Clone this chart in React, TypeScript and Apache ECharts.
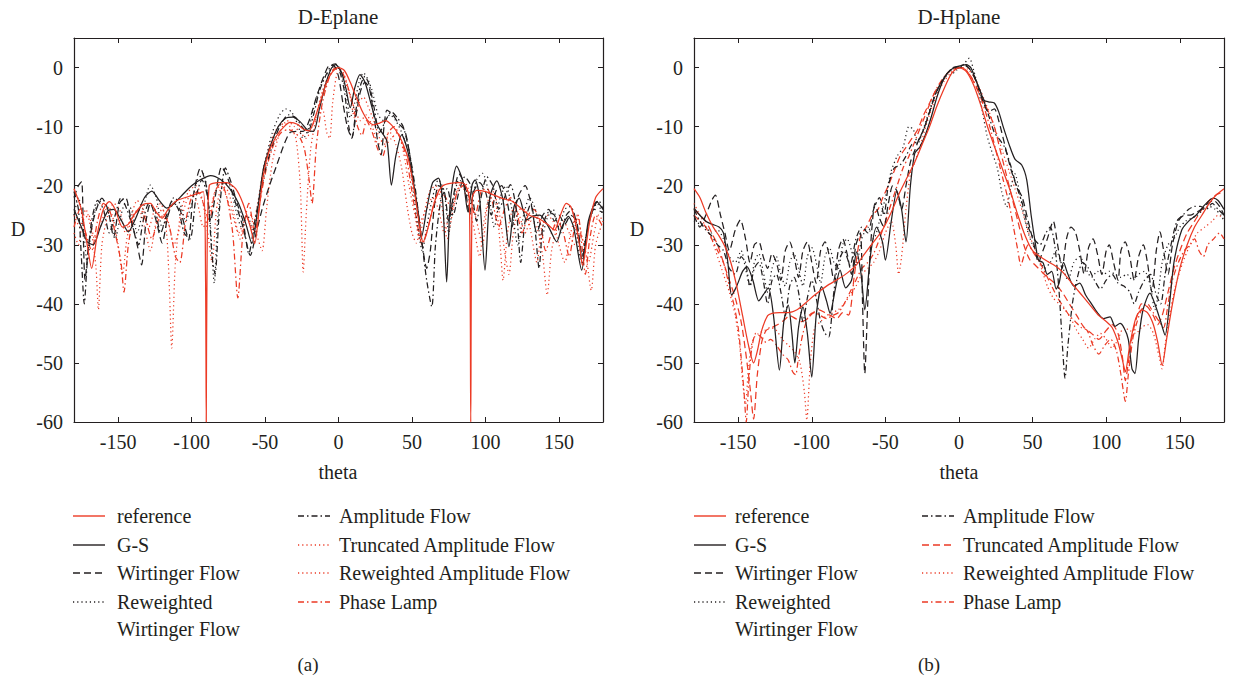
import React, { useEffect, useRef } from "react";
import * as echarts from "echarts";

type P = [number, number];

// ---------- D-Eplane (a) ----------
const eReference: P[] = [[-180,-20.5],[-175,-24],[-171,-30],[-168,-34],[-164,-28],[-160,-24],[-156,-22.7],[-152,-24],[-147,-27],[-143,-26.5],[-138,-24.5],[-133,-23.2],[-128,-23],[-124,-24.5],[-120,-25.5],[-116,-24],[-110,-22.5],[-104,-22],[-98,-21.5],[-92,-21],[-90.5,-35],[-90,-60],[-89.5,-35],[-88,-20],[-82,-19.5],[-76,-19.5],[-70,-20.5],[-65,-23],[-60,-27],[-57,-29.8],[-54,-24],[-51,-18],[-47,-14],[-42,-11.5],[-37,-10],[-33,-9.3],[-28,-9.6],[-24,-10.4],[-20,-10.7],[-16,-8.5],[-12,-5.5],[-8,-2.5],[-4,-0.7],[0,0],[4,-0.5],[8,-2.5],[12,-5],[16,-7.3],[20,-9],[24,-9.7],[28,-9.4],[32,-9],[36,-9.7],[40,-11],[44,-13],[48,-16],[52,-21.5],[55,-26.5],[57.5,-29.5],[60,-28],[63,-25],[67,-21.5],[71,-20],[76,-19.6],[82,-19.5],[86,-19.8],[89,-22],[90,-60],[91,-22],[94,-20.8],[100,-21],[106,-21.6],[112,-22.2],[118,-22.6],[124,-23.8],[130,-25],[136,-25.5],[142,-26.5],[147,-27.5],[151,-25],[155,-23],[158,-23.5],[161,-26],[164,-30],[166,-33.5],[168,-31],[171,-26],[175,-22],[180,-20.5]];
const eGS: P[] = [[-180,-24],[-175,-27],[-171,-29.5],[-167,-30],[-162,-27],[-157,-24.3],[-153,-24],[-148,-25.8],[-143,-27.8],[-138,-25.5],[-132,-22],[-127,-20.9],[-122,-22.5],[-117,-23.8],[-112,-23],[-106,-21.5],[-100,-20],[-94,-19],[-87,-18.3],[-80,-19],[-74,-20.5],[-68,-23],[-63,-26.5],[-59,-29.8],[-55,-24],[-51,-17],[-46,-13],[-41,-10],[-36,-8.6],[-31,-8.4],[-26,-9.2],[-21,-10.6],[-17,-10.8],[-13,-7],[-9,-3],[-5,-0.2],[-2,0.5],[2,-0.8],[5,-3.5],[8,-6.8],[11,-3.5],[14.6,-1.2],[18,-2.5],[22,-6],[26,-9.5],[29,-10.8],[33,-12.5],[36,-19.9],[39,-15],[43,-11.4],[47,-14],[50,-18],[54,-24],[56.6,-28.6],[60,-24],[64,-19.5],[68,-18.7],[71,-23],[73.6,-36.3],[76,-23],[80.4,-16.7],[85,-19.5],[88,-24.4],[91,-19.8],[93,-19],[96,-22],[99.7,-34.3],[103,-22],[107.7,-19.2],[112,-22.5],[116,-30.3],[119.5,-23.5],[123,-22.1],[128,-25.8],[132,-25.2],[137,-25],[143,-27],[148.5,-29.5],[152,-27],[156.4,-25.2],[160,-27],[165.5,-34.3],[170,-26],[175.7,-22.7],[180,-24]];
const eWF: P[] = [[-180,-22],[-177,-20],[-174.8,-19.3],[-173.5,-30],[-172.5,-36],[-170,-30],[-166,-25],[-161,-22.1],[-157,-24],[-153,-28.6],[-149,-23],[-145,-22],[-141,-26],[-137,-30],[-134,-33.4],[-131,-26],[-128,-23],[-124,-26],[-120,-29.7],[-116,-25],[-112,-23],[-108,-24],[-104,-27.5],[-102,-29.2],[-99,-22],[-94,-17],[-90,-20],[-87,-26],[-84,-22],[-79.5,-16.8],[-75,-19],[-70,-23],[-65,-27],[-60,-31.8],[-56,-28],[-52,-24],[-47,-20],[-42,-16.5],[-37,-13],[-33,-11],[-28,-10.8],[-24,-10.8],[-20,-9],[-15,-5],[-10,-1.5],[-6,0.4],[-3,0.3],[0,-1.5],[3,-6],[6,-10],[9,-11.9],[12,-8],[15,-4],[18,-2.5],[21,-3.5],[24,-8],[27,-13],[29,-14.8],[31,-10],[33,-7.2],[37,-8],[41,-9.5],[45,-10.6],[48,-14],[51,-19],[54,-25],[57,-30],[60,-34],[62.5,-31],[65,-24],[68,-20],[72,-21],[75,-26],[78,-22],[82,-18],[86,-20],[89,-25],[92,-21],[96,-19.5],[100,-21],[104,-25],[107,-21],[111,-20],[115,-23],[118,-27],[122,-22],[127,-20],[131,-23],[135,-28],[139,-25],[143,-24],[147,-26],[150,-25],[154,-26.5],[158,-25],[162,-26],[166,-32],[169,-28],[174,-24],[180,-24.5]];
const eRWF: P[] = [[-180,-25],[-177,-22],[-174,-26],[-171,-33],[-168,-27],[-164,-23],[-160,-22.5],[-156,-25],[-152,-29],[-149,-26],[-145,-23],[-141,-24],[-137,-28],[-133,-24],[-128,-19.9],[-124,-22],[-120,-27],[-116,-25],[-112,-22],[-108,-23],[-104,-26],[-100,-23],[-96,-19],[-92,-18],[-88,-24],[-84.5,-36.5],[-82,-25],[-78,-19.5],[-74,-20],[-70,-24],[-66,-27],[-62,-25],[-58,-28],[-54,-22],[-50,-16],[-45,-11],[-40,-8],[-36,-7],[-32,-7.5],[-28,-9.5],[-24,-12],[-20,-10],[-16,-6],[-12,-3],[-8,-1.2],[-4,0],[-1,0.5],[2,-1],[5,-4],[8,-8.5],[11,-6],[14,-2.5],[17,-0.9],[20,-2],[23,-4],[27,-8],[31,-9],[35,-8],[39,-9],[43,-11],[47,-14],[51,-21],[54,-27],[57,-31],[60,-27],[64,-22],[68,-19],[72,-21],[75,-28],[78,-23],[82,-19],[86,-20],[90,-23],[94,-19],[98,-17.9],[102,-21],[106,-27],[110,-22],[114,-20],[118,-24],[122,-30],[126,-25],[130,-22],[134,-24],[138,-29],[142,-25.5],[146,-24],[150,-27],[154,-24],[158,-23.5],[162,-28],[165,-33],[168,-29],[172,-25],[176,-23],[180,-25]];
const eAF: P[] = [[-180,-21],[-177,-24],[-175,-32],[-173,-40],[-171,-33],[-168,-26],[-164,-22.5],[-160,-24],[-156,-28],[-152,-25],[-148,-22],[-144,-24],[-140,-27],[-136,-30],[-133,-26],[-129,-23],[-125,-24],[-121,-28],[-117,-25],[-113,-22.5],[-109,-24],[-105,-28],[-101,-29],[-97,-22],[-93,-19],[-89,-22],[-86,-32],[-84,-35],[-81,-24],[-77,-17],[-73,-19.5],[-69,-23],[-65,-26],[-61,-31.5],[-57,-26],[-53,-21],[-49,-16.5],[-44,-12.5],[-39,-9.5],[-34,-8],[-29,-8.5],[-25,-10],[-21,-11],[-17,-8],[-13,-4],[-9,-1.5],[-5,0.3],[-2,0.6],[1,-0.8],[4,-4],[7,-10],[9,-12],[12,-7],[15,-3],[18,-1.5],[21,-3],[24,-6.5],[28,-11],[32,-9],[36,-7.5],[40,-8.5],[44,-10],[48,-14],[52,-20],[56,-28],[60,-36],[63.5,-40.5],[66,-30],[70,-22],[74,-20.5],[78,-25],[82,-21],[86,-18.5],[90,-20],[94,-26],[97,-22],[101,-18.5],[105,-20],[109,-24],[113,-22],[117,-19.8],[121,-24],[124,-33],[127,-26],[131,-23],[134,-28],[136.5,-34],[139,-27],[143,-24.5],[147,-25],[151,-28],[155,-25],[159,-24],[163,-28],[166,-33],[169,-28],[173,-24],[177,-22.5],[180,-24]];
const eTAF: P[] = [[-180,-25],[-176,-27],[-172,-24],[-168,-28],[-165,-34],[-163.4,-41],[-161,-30],[-157,-25],[-153,-23],[-149,-24],[-145,-28],[-141,-25],[-137,-22.5],[-133,-24],[-129,-27],[-125,-24],[-121,-23],[-117,-28],[-115,-38],[-113.5,-47.5],[-111,-33],[-107,-24],[-102,-21],[-97,-20],[-93,-22],[-89,-28],[-86,-33],[-83,-24],[-79,-20],[-75,-21],[-71,-25],[-67,-29],[-63,-25],[-59,-27],[-55,-23],[-51,-17],[-46,-12.5],[-41,-10],[-37,-9.5],[-33,-10],[-29,-12],[-26,-20],[-24,-34.6],[-22,-25],[-19,-14],[-15,-8],[-11,-4],[-7,-1.5],[-3,-0.3],[0,-0.2],[3,-1.5],[7,-4],[11,-7],[15,-9],[19,-8],[23,-10],[27,-13],[31,-12],[35,-11],[39,-13],[43,-17],[47,-24],[50,-28],[53,-29.7],[56,-26],[60,-24],[64,-22],[68,-24],[72,-28],[76,-24],[80,-21],[84,-20],[88,-23],[92,-27],[96,-32],[99,-26],[103,-22],[107,-23],[110,-30],[112,-36],[115,-28],[119,-24],[123,-25],[127,-28],[131,-26],[135,-27],[139,-32],[142,-38.5],[145,-31],[149,-27],[153,-26],[157,-28],[161,-30],[164,-28],[168,-31],[172,-37.7],[175,-30],[180,-26]];
const eRAF: P[] = [[-180,-28],[-177,-30],[-174,-26],[-170,-25],[-166,-29],[-162,-27],[-158,-24],[-154,-25],[-150,-30],[-147,-35],[-144,-29],[-140,-25],[-136,-24],[-132,-27],[-128,-31],[-124,-26],[-120,-24],[-116,-26],[-112,-30],[-108,-27],[-104,-23],[-100,-21.5],[-96,-23],[-92,-27],[-88,-25],[-84,-21],[-80,-20],[-76,-22],[-72,-25],[-68,-28],[-64,-26],[-60,-25],[-56,-28],[-52,-31],[-49,-24],[-45,-16],[-40,-11],[-35,-9],[-30,-10],[-26,-11],[-22,-12],[-18,-10],[-14,-8],[-11,-7],[-8,-11],[-6,-12],[-4,-6],[-1,-1],[2,-0.5],[5,-2],[8,-5],[11,-8.5],[14,-6],[17,-5],[20,-6.5],[24,-9],[28,-12],[32,-13],[36,-12],[40,-11],[44,-14],[48,-20],[52,-25],[55,-29],[58,-25],[62,-21],[66,-20],[70,-23],[74,-29],[78,-24],[82,-20],[86,-19.5],[90,-22],[94,-26],[98,-30],[101,-24],[105,-21],[109,-24],[113,-31],[116,-35],[119,-28],[123,-24],[127,-24],[131,-28],[135,-33],[138,-28],[142,-25],[146,-26],[150,-30],[154,-33],[158,-28],[162,-25],[166,-29],[170,-33],[174,-28],[177,-25],[180,-26]];
const ePL: P[] = [[-180,-27],[-176,-24],[-172,-28],[-168,-31],[-164,-26],[-160,-23],[-156,-24],[-152,-28],[-148,-33],[-146,-38],[-143,-30],[-139,-25],[-135,-24],[-131,-26],[-127,-29],[-123,-26],[-119,-25],[-115,-27],[-111,-32],[-108,-33],[-104,-26],[-100,-22],[-96,-21],[-92,-23],[-88,-26],[-84,-21],[-80,-19.5],[-76,-22],[-72,-28],[-68.5,-39],[-65,-28],[-61,-23],[-57,-28],[-53,-22],[-49,-17],[-44,-13],[-39,-11],[-34,-10.5],[-30,-11],[-26,-12],[-23,-14],[-20,-19],[-18,-23],[-15,-13],[-11,-6],[-6,-1.5],[-2,0],[2,-0.5],[6,-3],[10,-6.5],[13,-10],[16,-11.5],[19,-9],[23,-11],[27,-14],[30,-15],[34,-11],[38,-10],[42,-12],[46,-15],[50,-21],[54,-27],[57,-30],[61,-27],[65,-23],[69,-21],[73,-22],[77,-24],[81,-21],[85,-20],[89,-22],[93,-25],[97,-21],[101,-20.5],[105,-23],[109,-27],[113,-24],[117,-22],[121,-24],[125,-28],[129,-25],[133,-24],[137,-26],[141,-31],[145,-28],[149,-26],[153,-28],[157,-32],[160,-28],[163,-25],[166,-31],[168,-35],[171,-29],[175,-25],[180,-27]];

// ---------- D-Hplane (b) ----------
const hReference: P[] = [[-180,-20.5],[-176,-22],[-172,-24.5],[-167,-27],[-163,-28.5],[-159,-30.3],[-155,-33],[-151,-37],[-147,-42],[-143,-47],[-139.5,-50],[-137,-48],[-134,-44.5],[-130,-42],[-127,-41.6],[-122,-41.5],[-116,-41.5],[-110,-41],[-104,-39.8],[-98,-38.5],[-90,-37],[-82,-35.8],[-76,-34.8],[-70,-33.5],[-64,-31.5],[-58,-29.5],[-52,-27.5],[-46,-24.5],[-40,-21],[-35,-18.5],[-30,-16],[-25,-13],[-20,-10],[-15,-6.5],[-10,-3.5],[-5,-1],[0,0],[5,-0.7],[10,-3],[15,-6.5],[20,-10.5],[25,-14],[30,-17.5],[35,-21],[40,-25],[45,-28.5],[50,-31],[55,-32],[60,-32.8],[65,-33.5],[70,-34.5],[75,-36],[80,-37.5],[85,-39],[90,-40.5],[95,-42],[100,-43],[104,-44],[108,-46.5],[111,-49.5],[113,-51.5],[116,-47],[120,-42.5],[124,-41],[128,-41.5],[132,-43.5],[135,-46.5],[138,-50.4],[141,-46],[145,-40],[150,-34],[155,-30],[160,-27],[165,-25],[170,-23],[175,-21.5],[180,-20.5]];
const hGS: P[] = [[-180,-23.8],[-176,-25],[-172,-26],[-168,-26.5],[-163,-27],[-160,-28],[-157,-33],[-154.5,-38.5],[-151,-37],[-147,-34.5],[-144,-33.7],[-140,-36],[-136,-39.5],[-133,-38.5],[-129.5,-37.3],[-126,-42],[-122,-51.2],[-119,-43],[-116,-40.2],[-113.5,-45],[-111.5,-50],[-109,-44],[-106,-40.5],[-103,-45],[-100,-52.4],[-97,-42],[-93.3,-37.1],[-90,-39.5],[-87.6,-41.6],[-84,-37.5],[-80.8,-34.3],[-77,-37.3],[-73,-36],[-69.5,-31.2],[-66.5,-35],[-64,-41],[-60,-31.5],[-56,-27],[-52,-29.5],[-50,-32.6],[-46,-26],[-42.3,-21],[-39,-24],[-36,-29.5],[-33,-20],[-30,-14.5],[-26.5,-13.4],[-23,-11.5],[-19,-8.5],[-15,-5],[-11,-2.3],[-7,-0.7],[-3,0],[1,0.3],[5,0.5],[8,0],[11,-1.8],[14,-3.8],[17,-5.5],[20,-5.8],[24,-6],[27,-7.5],[30,-10],[34,-13],[38,-15.5],[42.6,-16.5],[46,-19],[49,-25],[52,-30],[54,-32.6],[57,-33],[60,-35],[63,-34.5],[66,-37.5],[68,-36.5],[71,-33],[74,-35],[78,-37],[82,-36.5],[86,-38.5],[90,-40],[94,-41.5],[98,-42.5],[102.6,-42.2],[106,-43.8],[109.4,-43.3],[112,-44],[115,-46],[117.5,-51],[119.5,-51.8],[122,-46],[125,-41],[129.7,-38.2],[133,-40],[137,-43],[140,-45.3],[143,-40],[146,-33],[151.3,-27.5],[156,-26],[161,-25],[166,-23.5],[172.7,-22.1],[176,-22.5],[180,-24]];
const hWF: P[] = [[-180,-25],[-176,-27],[-172,-25],[-168,-22.5],[-165.5,-21.6],[-162,-25],[-159,-28],[-156,-31],[-152,-27.5],[-148.5,-25.8],[-145,-29],[-142,-33],[-139,-30],[-136,-29.5],[-133,-32],[-130,-34],[-127,-31.5],[-124,-33],[-121,-36],[-118,-31],[-115,-29.5],[-112,-32],[-109,-35.5],[-106,-31],[-103,-29.5],[-100,-33],[-97,-36.5],[-94,-31],[-91,-29.5],[-88,-32],[-85,-36],[-82,-31],[-79,-29],[-76,-31.5],[-73,-35],[-70,-30],[-67,-28],[-65.5,-40],[-64,-51.8],[-62,-40],[-60,-30],[-57,-23],[-54,-25.5],[-51,-27],[-48,-23],[-45,-20],[-42,-21],[-39,-24],[-36,-20],[-33,-16],[-30,-14],[-27,-12],[-24,-10.5],[-20,-7.5],[-16,-4.5],[-12,-2.5],[-8,-1],[-4,-0.2],[0,0],[4,0.3],[8,-0.5],[12,-2.5],[16,-5.5],[20,-7.5],[24,-7],[27,-9],[31,-13],[35,-17],[39,-20],[43,-22],[47,-26],[51,-30],[54,-33],[57,-31],[60,-29],[64,-26],[67,-30],[70,-34],[73,-29],[76,-27],[79,-27.8],[82,-31],[85,-35],[88,-30.5],[91,-29],[94,-31.5],[97,-35],[100,-31],[102,-30],[105,-33],[108,-36],[110,-31],[112.8,-29.5],[116,-32],[119,-36],[122,-32],[125.2,-30],[128,-33],[131,-38],[134,-31],[136.5,-27.8],[139,-31],[142,-35],[145,-30],[149,-26],[153,-25],[157,-25],[161,-24.5],[165,-24],[169,-23],[173,-22.5],[177,-23.5],[180,-25]];
const hRWF: P[] = [[-180,-26],[-176,-26.5],[-172,-27],[-168,-28],[-164,-27.5],[-160,-29],[-156,-32],[-152,-33],[-148,-31],[-145,-34],[-142,-37],[-139,-33],[-136,-31.5],[-133,-34.5],[-130,-38],[-127,-34],[-124,-32],[-121,-35],[-118,-37],[-115,-33],[-112,-31.5],[-109,-34],[-106,-37],[-103,-32],[-100,-30.5],[-97,-33],[-94,-36.5],[-91,-32],[-88,-30.5],[-85,-33],[-82,-34],[-79,-30],[-76,-29],[-73,-31],[-70,-33.5],[-66,-29],[-62,-27],[-58,-29],[-54,-26],[-50,-22],[-46,-17.5],[-42,-15],[-38,-13.5],[-34,-10],[-31,-10.5],[-28,-13],[-25,-11],[-21,-8],[-17,-5],[-13,-3],[-9,-1.5],[-5,-1.2],[-2,-0.5],[1,0],[4,0.8],[7,1.6],[10,-0.5],[13,-3.5],[16,-7.5],[19,-11.5],[22,-14],[26,-17],[29,-21],[32.4,-23.6],[35,-20.5],[38,-18],[41,-21],[44,-25],[47,-28],[50,-30],[54,-31.5],[58,-34],[62,-33],[66,-31],[70,-33.5],[74,-36],[78,-33],[82,-32],[86,-34],[90,-35.5],[94,-34.5],[98,-35],[102,-34.5],[106,-35],[110,-35.5],[114,-35],[118,-36],[122,-35],[126,-34.5],[130,-37],[133,-41],[135,-39],[138,-33],[142,-30],[146,-29],[150,-27],[154,-26],[158,-25.5],[162,-25],[166,-24],[170,-23.5],[174,-24],[178,-25],[180,-26]];
const hAF: P[] = [[-180,-24],[-176,-26],[-172,-27.5],[-168,-28.5],[-164,-30],[-160,-31],[-156,-34],[-152,-35],[-148,-32],[-145,-33],[-142,-37],[-139,-34],[-136,-33],[-133,-36],[-130,-40],[-127,-36],[-124,-35],[-121,-38],[-118,-42],[-115,-37],[-112,-35.5],[-109,-38],[-106,-43],[-103,-39],[-100,-36],[-97,-39],[-94,-43],[-91,-45],[-88.5,-45.6],[-85,-38],[-82,-33],[-78,-31],[-74,-33.5],[-70,-29],[-66,-27],[-62,-28],[-58,-24],[-54,-22],[-51,-25],[-48,-20],[-44,-17],[-40,-16.5],[-36,-15],[-32,-13],[-28,-12.5],[-24,-10.5],[-20,-7.5],[-16,-4.5],[-12,-2.5],[-8,-1],[-4,0],[0,0.2],[4,0.5],[8,-0.5],[12,-2.5],[16,-5],[20,-8],[24,-11],[27,-12],[31,-13.5],[35,-16.5],[39,-20],[43,-23],[47,-27],[51,-29],[55,-30],[59,-28],[62,-27],[65,-30],[68,-38],[70.5,-48],[72,-52.6],[74,-47],[77,-40],[80,-36],[84,-33],[88,-34],[92,-36],[96,-37.5],[100,-36],[104,-35],[108,-36.5],[112,-37],[116,-38],[119,-40],[122,-38],[126,-36],[130,-35],[134,-38.5],[137,-40],[140,-35],[144,-30],[148,-26],[152,-25],[156,-24],[160,-23.5],[164,-23.5],[168,-24],[172,-23],[176,-24],[180,-25]];
const hTAF: P[] = [[-180,-24],[-176,-25],[-172,-26],[-168,-28],[-164,-30],[-160,-33],[-156,-36],[-152,-39],[-148,-43],[-145,-48],[-142,-54],[-139.5,-59.5],[-137,-52],[-134,-46.5],[-131,-44.5],[-127,-44],[-123,-43.5],[-119,-42.8],[-115,-42],[-111,-42.5],[-107,-43],[-103,-42.5],[-99,-41.5],[-95,-41],[-91,-41.5],[-87,-42],[-83,-42.5],[-79,-41.5],[-75,-41.9],[-71,-35],[-67,-28.6],[-63,-27],[-59,-25],[-55,-24],[-51.6,-21.9],[-48,-20],[-44,-17.5],[-40,-15],[-36,-13.5],[-32,-12],[-28,-10.5],[-24,-8],[-20,-6],[-16,-4],[-12,-2.5],[-8,-1],[-4,-0.3],[0,0],[4,-0.3],[8,-1.5],[12,-3.5],[16,-5.5],[20,-7.5],[24,-10],[28,-14],[32,-18],[36,-22],[40,-26],[44,-30],[48,-32.5],[52,-33.5],[56,-34.5],[60,-35.5],[65,-36.5],[70,-38],[75,-40],[80,-42],[85,-44],[90,-45],[95,-46],[100,-44.5],[104,-43.5],[108,-45],[111,-49],[113,-53],[115,-50],[118,-45],[121,-42],[124,-40],[128,-40.5],[132,-42],[135,-43.5],[138,-42],[142,-38],[146,-34],[150,-31],[155,-28],[160,-26],[165,-24],[170,-22.5],[175,-21.5],[180,-21]];
const hRAF: P[] = [[-180,-23],[-176,-25],[-172,-27],[-168,-29],[-164,-32],[-160,-35],[-156,-38],[-152,-42],[-149,-47],[-147,-53],[-145,-57],[-143,-51],[-140,-46],[-136,-45],[-132,-44.5],[-128,-44],[-124,-44.5],[-120,-46],[-116,-47],[-112,-48],[-108,-50],[-105,-55],[-103.4,-59.7],[-101,-50],[-98,-44],[-94,-43],[-90,-42],[-86,-41.5],[-82,-41],[-78,-40],[-74,-38.5],[-70,-37],[-66,-35],[-62,-34],[-58,-33],[-54,-31],[-50,-28],[-46,-26],[-43,-30],[-41,-35],[-39,-32],[-36,-24],[-33,-18],[-30,-16],[-26,-13],[-22,-9.5],[-18,-6.5],[-14,-4],[-10,-2.3],[-6,-1],[-2,-0.2],[2,0],[6,-0.3],[10,-1.5],[14,-3.5],[18,-6],[22,-8.5],[26,-11.5],[30,-14.5],[34,-17.5],[38,-20.5],[42,-23.5],[45,-26],[48,-28.5],[52,-31],[56,-34],[60,-37],[64,-39],[68,-40],[72,-41],[76,-42.5],[80,-44.5],[84,-46],[88,-47.5],[92,-46],[96,-45],[100,-46],[104,-47.5],[108,-46],[112,-44],[116,-44.5],[120,-45],[124,-44],[128,-43.5],[132,-45],[136,-49],[138,-51],[140,-47],[143,-42],[147,-37],[152,-33],[157,-30],[162,-28],[167,-27],[172,-26],[176,-25],[180,-25.5]];
const hPL: P[] = [[-180,-25],[-176,-26],[-172,-27],[-168,-29],[-164,-31],[-160,-33],[-156,-37],[-153,-40],[-150,-44],[-148,-49],[-146,-55],[-144.5,-60],[-143,-54],[-141,-48],[-138,-45],[-135,-45.5],[-131,-46.5],[-128,-46],[-124,-47],[-120,-48.5],[-116,-49.5],[-113,-51.5],[-111,-52],[-109,-49],[-106,-45],[-102,-42],[-98,-41.5],[-94,-42],[-90,-42.5],[-86,-42],[-82,-41.5],[-78,-40],[-74,-38],[-70,-36],[-66,-34],[-62,-33],[-58,-31.5],[-54,-29],[-50,-26],[-46,-23],[-42,-20],[-38,-17],[-34,-15],[-30,-12.5],[-26,-10],[-22,-7.5],[-18,-5],[-14,-3],[-10,-1.5],[-6,-0.5],[-2,0],[2,0],[6,-0.8],[10,-2.3],[14,-4.5],[18,-7.5],[22,-11],[26,-15],[30,-19],[34,-23],[37,-27],[40,-31],[42,-33.5],[44,-32],[47,-30],[51,-31.5],[55,-33],[59,-35],[63,-37],[67,-39],[71,-40.5],[75,-42],[79,-43],[83,-44],[87,-44.5],[91,-47],[95,-48.5],[99,-47],[103,-46],[107,-48],[110,-52],[113,-56.5],[115,-52],[118,-46],[121,-43],[124,-41],[128,-40],[132,-41.5],[136,-43],[139,-44],[142,-40],[145,-36],[149,-33],[153,-31],[157,-30],[160,-29],[163,-31],[166,-32],[169,-30],[173,-29],[177,-28],[180,-29]];

const xTicks = [-150, -100, -50, 0, 50, 100, 150];
const yTicks = [-60, -50, -40, -30, -20, -10, 0];
const panelTitles = ["D-Eplane", "D-Hplane"];
const panelTags = ["(a)", "(b)"];
const xName = "theta";
const yName = "D";
const seriesNames = ["reference", "G-S", "Wirtinger Flow", "Reweighted\nWirtinger Flow", "Amplitude Flow", "Truncated Amplitude Flow", "Reweighted Amplitude Flow", "Phase Lamp"];

const RED = "#ec3a25";
const BLACK = "#231f20";
const SOLID: number[] | null = null;
const DASH = [7, 4];
const DOT = [1.2, 3];
const DASHDOT = [6, 3, 1.5, 3];

const panelData = [
  [eReference, eGS, eWF, eRWF, eAF, eTAF, eRAF, ePL],
  [hReference, hGS, hWF, hRWF, hAF, hTAF, hRAF, hPL],
];
const panelStyles: [string, number[] | null][][] = [
  [[RED, SOLID], [BLACK, SOLID], [BLACK, DASH], [BLACK, DOT], [BLACK, DASHDOT], [RED, DOT], [RED, DOT], [RED, DASHDOT]],
  [[RED, SOLID], [BLACK, SOLID], [BLACK, DASH], [BLACK, DOT], [BLACK, DASHDOT], [RED, DASH], [RED, DOT], [RED, DASHDOT]],
];

const FONT = "'Liberation Serif', 'DejaVu Serif', serif";

export default function App() {
  const ref = useRef<HTMLDivElement>(null);
  useEffect(() => {
    if (!ref.current) return;
    const chart = echarts.init(ref.current, null, { renderer: "svg" });
    const grids = [
      { left: 74, top: 38, width: 529, height: 384 },
      { left: 694, top: 38, width: 530, height: 384 },
    ];
    const xAxes: any[] = [];
    const yAxes: any[] = [];
    grids.forEach((g, gi) => {
      const common = {
        gridIndex: gi,
        type: "value",
        splitLine: { show: false },
        axisLine: { show: true, onZero: false, lineStyle: { color: BLACK, width: 1.2 } },
      };
      xAxes.push({
        ...common, position: "bottom", min: -180, max: 180,
        axisTick: { inside: true, length: 5, customValues: xTicks, lineStyle: { color: BLACK } },
        axisLabel: { customValues: xTicks, color: BLACK, fontFamily: FONT, fontSize: 20, margin: 10 },
      });
      xAxes.push({
        ...common, position: "top", min: -180, max: 180,
        axisTick: { inside: true, length: 5, customValues: xTicks, lineStyle: { color: BLACK } },
        axisLabel: { show: false },
      });
      yAxes.push({
        ...common, position: "left", min: -60, max: 5,
        axisTick: { inside: true, length: 5, customValues: yTicks, lineStyle: { color: BLACK } },
        axisLabel: { customValues: yTicks, color: BLACK, fontFamily: FONT, fontSize: 20, margin: 11 },
      });
      yAxes.push({
        ...common, position: "right", min: -60, max: 5,
        axisTick: { inside: true, length: 5, customValues: yTicks, lineStyle: { color: BLACK } },
        axisLabel: { show: false },
      });
    });

    const series: any[] = [];
    panelData.forEach((list, gi) => {
      list.forEach((data, si) => {
        const [color, dash] = panelStyles[gi][si];
        series.push({
          type: "line",
          name: seriesNames[si],
          xAxisIndex: gi * 2,
          yAxisIndex: gi * 2,
          data,
          symbol: "none",
          smooth: 0.25,
          clip: true,
          z: 10 - si,
          lineStyle: { color, width: 1.25, type: dash ? dash : "solid" },
        });
      });
    });

    const graphic: any[] = [];
    const txt = (x: number, y: number, text: string, size: number, align = "left") => ({
      type: "text", x, y, silent: true,
      style: { text, fill: BLACK, font: `${size}px ${FONT}`, align, verticalAlign: "middle", lineHeight: 28 },
    });
    const centers = [338, 959];
    centers.forEach((cx, gi) => {
      graphic.push(txt(cx, 17, panelTitles[gi], 21, "center"));
      graphic.push(txt(cx, 472, xName, 20, "center"));
      graphic.push(txt(cx - 30, 664, panelTags[gi], 19, "center"));
    });
    graphic.push(txt(18, 229, yName, 20, "center"));
    graphic.push(txt(637, 229, yName, 20, "center"));

    const legendCols = [
      [{ lx: 73, tx: 117 }, { lx: 298, tx: 339 }],
      [{ lx: 694, tx: 735 }, { lx: 922, tx: 963 }],
    ];
    const rowsY = [516, 545, 573, 602];
    panelStyles.forEach((styles, gi) => {
      styles.forEach(([color, dash], si) => {
        const col = legendCols[gi][si < 4 ? 0 : 1];
        const y = rowsY[si % 4];
        graphic.push({
          type: "line", silent: true,
          shape: { x1: col.lx, y1: y, x2: col.lx + 32, y2: y },
          style: { stroke: color, lineWidth: 1.4, lineDash: dash ? dash : null },
        });
        const name = seriesNames[si];
        if (name.includes("\n")) {
          const parts = name.split("\n");
          graphic.push(txt(col.tx, y, parts[0], 20));
          graphic.push(txt(col.tx, y + 27, parts[1], 20));
        } else {
          graphic.push(txt(col.tx, y, name, 20));
        }
      });
    });

    chart.setOption({
      animation: false,
      backgroundColor: "#ffffff",
      grid: grids,
      xAxis: xAxes,
      yAxis: yAxes,
      series,
      graphic,
    });
    return () => chart.dispose();
  }, []);
  return <div ref={ref} style={{ position: "fixed", left: 0, top: 0, width: 1234, height: 684 }} />;
}
